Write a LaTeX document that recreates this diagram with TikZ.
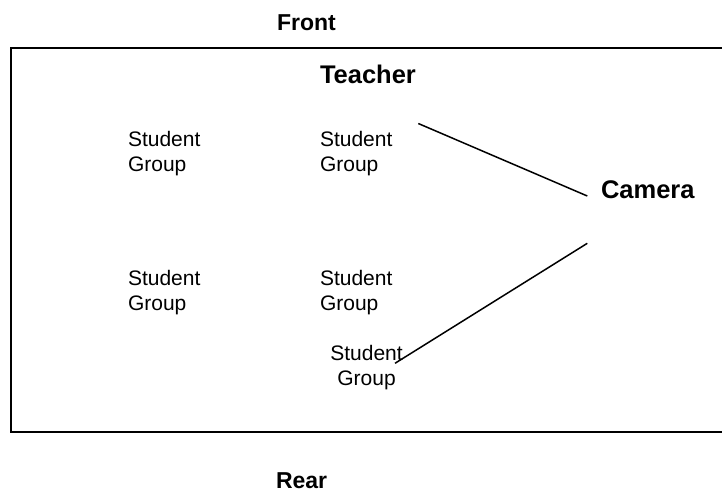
\documentclass[tikz,border=0pt]{standalone}
\usepackage{fontspec}
\setmainfont{Liberation Sans}
\begin{document}
\begin{tikzpicture}[x=1pt,y=-1pt,
  lbl/.style={inner sep=0pt,outer sep=0pt,font=\fontsize{23}{27}\selectfont\bfseries,anchor=base west},
  big/.style={inner sep=0pt,outer sep=0pt,font=\fontsize{25.5}{30}\selectfont\bfseries,anchor=base west},
  grp/.style={inner sep=0pt,outer sep=0pt,font=\fontsize{21}{25}\selectfont,align=left,anchor=north west},
  grpc/.style={inner sep=0pt,outer sep=0pt,font=\fontsize{21}{25}\selectfont,align=center,anchor=north},
  room/.style={line width=2pt,draw=black},
  sight/.style={line width=1.5pt,draw=black}]
\useasboundingbox (0,0) rectangle (722,493);
\coordinate (tl) at (11,48);
\coordinate (bl) at (11,432);
\coordinate (tr) at (723,48);
\coordinate (br) at (723,432);
\draw[room] (tr) -- (tl) -- (bl) -- (br);
\node[lbl] (front) at (277,30) {Front};
\node[lbl] (rear) at (276,488) {Rear};
\node[big] (teacher) at (320,83) {Teacher};
\node[big] (camera) at (601,198) {Camera};
\node[grp] (g1) at (128,131.7) {Student\\Group};
\node[grp] (g2) at (320,131.7) {Student\\Group};
\node[grp] (g3) at (128,270.7) {Student\\Group};
\node[grp] (g4) at (320,270.7) {Student\\Group};
\node[grpc] (g5) at (366.5,345.7) {Student\\Group};
\coordinate (c1) at (418.3,123.5);
\coordinate (c2) at (587.3,196);
\coordinate (c3) at (587.3,243.3);
\coordinate (c4) at (395,363.3);
\draw[sight] (c1) -- (c2);
\draw[sight] (c3) -- (c4);
\end{tikzpicture}
\end{document}
